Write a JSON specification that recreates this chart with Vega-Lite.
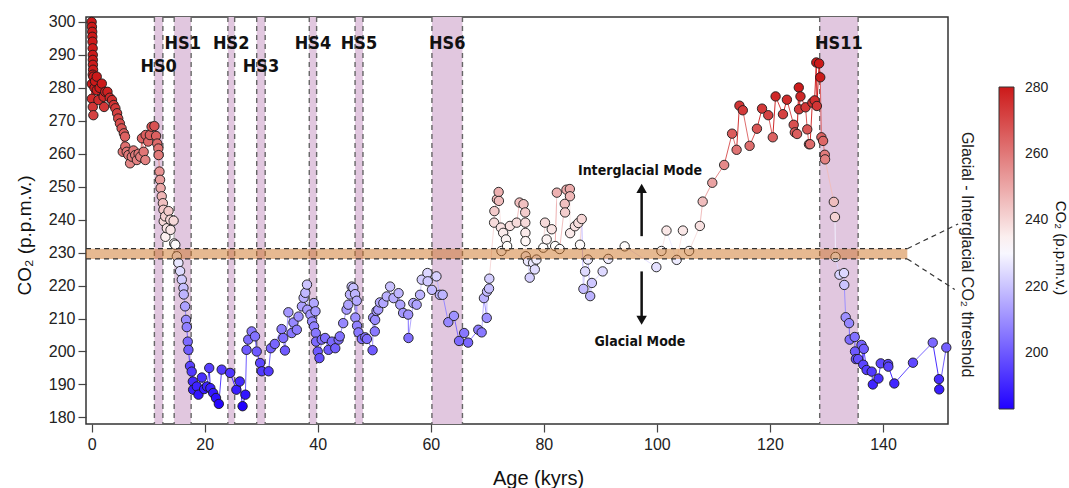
{
  "$schema": "https://vega.github.io/schema/vega-lite/v6.json",
  "width": 862,
  "height": 407,
  "autosize": {"type": "none"},
  "padding": {"left": 86, "top": 17, "right": 121, "bottom": 64},
  "background": "white",
  "config": {
    "font": "Liberation Sans",
    "view": {"stroke": "#333", "strokeWidth": 1.5},
    "axis": {"domain": false, "grid": false, "tickColor": "#444", "tickWidth": 1.2, "labelColor": "#222", "titleColor": "#111", "titleFontWeight": "normal", "labelFont": "Liberation Sans", "titleFont": "Liberation Sans", "labelOverlap": false},
    "axisY": {"tickCount": 13, "labelOverlap": false},
    "legend": {"labelFont": "Liberation Sans", "titleFont": "Liberation Sans"}
  },
  "resolve": {"legend": {"color": "independent"}},
  "datasets": {
    "co2": [
      {"age":0.0,"co2":300},{"age":0.05,"co2":298.5},{"age":0.1,"co2":297},{"age":0.12,"co2":295.5},{"age":0.15,"co2":294},{"age":0.18,"co2":292},{"age":0.2,"co2":290},{"age":0.21,"co2":288.5},{"age":0.22,"co2":287},{"age":0.25,"co2":285.5},{"age":0.2,"co2":284},{"age":0.3,"co2":283.4},{"age":0.03,"co2":281.2},{"age":0.03,"co2":276.7},{"age":0.2,"co2":274.2},{"age":0.3,"co2":271.7},{"age":0.5,"co2":280},{"age":0.6,"co2":282},{"age":0.9,"co2":283.4},{"age":0.9,"co2":279.3},{"age":1.2,"co2":276.3},{"age":1.4,"co2":280},{"age":1.8,"co2":281.3},{"age":2.1,"co2":277.3},{"age":2.2,"co2":274.2},{"age":2.4,"co2":278.8},{"age":2.8,"co2":278.8},{"age":3.2,"co2":277},{"age":3.6,"co2":276.3},{"age":3.9,"co2":274.8},{"age":4.2,"co2":273.8},{"age":4.5,"co2":272.3},{"age":4.7,"co2":270.7},{"age":5.0,"co2":269.2},{"age":5.3,"co2":267.7},{"age":5.5,"co2":260.6},{"age":5.7,"co2":266.2},{"age":5.9,"co2":265.2},{"age":5.95,"co2":262.2},{"age":6.2,"co2":260.6},{"age":6.5,"co2":259.6},{"age":6.8,"co2":257.1},{"age":7.1,"co2":259.1},{"age":7.4,"co2":261},{"age":7.7,"co2":259.6},{"age":8.0,"co2":258.1},{"age":8.3,"co2":260},{"age":8.6,"co2":259.1},{"age":8.9,"co2":264.7},{"age":9.2,"co2":260.6},{"age":9.5,"co2":258.1},{"age":9.55,"co2":265.7},{"age":10.0,"co2":263.7},{"age":10.3,"co2":265.7},{"age":10.6,"co2":268.2},{"age":11.1,"co2":268.4},{"age":11.4,"co2":265.4},{"age":11.6,"co2":263.1},{"age":11.8,"co2":261.6},{"age":11.85,"co2":259.6},{"age":12.0,"co2":254.6},{"age":12.1,"co2":252.1},{"age":12.2,"co2":249.6},{"age":12.4,"co2":247.1},{"age":12.6,"co2":245.0},{"age":12.7,"co2":243.0},{"age":12.75,"co2":239.5},{"age":13.0,"co2":241.0},{"age":13.05,"co2":234.8},{"age":13.3,"co2":237.4},{"age":13.6,"co2":242.6},{"age":13.9,"co2":240.0},{"age":13.95,"co2":236.9},{"age":14.5,"co2":239.7},{"age":14.6,"co2":232.8},
      {"age":14.8,"co2":232.4},{"age":15.07,"co2":228.9},{"age":15.35,"co2":226.9},{"age":15.65,"co2":224.4},{"age":15.95,"co2":221.8},{"age":16.24,"co2":219.3},{"age":16.3,"co2":217.3},{"age":16.53,"co2":213.7},{"age":16.7,"co2":209.6},{"age":16.83,"co2":207.4},{"age":17.0,"co2":203},{"age":17.12,"co2":200.5},{"age":17.4,"co2":195.6},{"age":17.7,"co2":193.9},{"age":17.9,"co2":190.9},{"age":17.95,"co2":188.4},{"age":18.6,"co2":189.4},{"age":18.9,"co2":186.9},{"age":19.5,"co2":192.1},{"age":19.9,"co2":188.6},{"age":20.4,"co2":189.4},{"age":20.8,"co2":195},{"age":21.0,"co2":188.9},{"age":21.5,"co2":187.4},{"age":22.0,"co2":185.9},{"age":22.5,"co2":184.1},{"age":23.0,"co2":194.5},{"age":24.5,"co2":193.5},{"age":25.6,"co2":188.4},{"age":26.2,"co2":190.9},{"age":26.7,"co2":183.4},{"age":27.2,"co2":186.9},{"age":27.4,"co2":200.5},{"age":27.7,"co2":203.6},{"age":28.3,"co2":206.1},{"age":28.9,"co2":204.6},{"age":29.2,"co2":200},{"age":29.8,"co2":196.5},{"age":30.1,"co2":194},{"age":31.3,"co2":194},{"age":31.7,"co2":201},{"age":32.4,"co2":202.3},{"age":33.6,"co2":206.8},{"age":33.9,"co2":204.1},{"age":34.2,"co2":200.3},{"age":34.8,"co2":211.9},{"age":35.4,"co2":205.6},{"age":35.7,"co2":208.8},{"age":36.3,"co2":206.6},{"age":36.6,"co2":210.6},{"age":37.2,"co2":213.7},{"age":37.5,"co2":216.3},{"age":37.8,"co2":217.8},{"age":38.1,"co2":220.3},{"age":38.15,"co2":212.7},{"age":38.7,"co2":211.2},{"age":39.0,"co2":209.1},{"age":39.3,"co2":214.7},{"age":39.35,"co2":207.6},{"age":39.6,"co2":212.2},{"age":39.65,"co2":205.6},{"age":39.7,"co2":203},{"age":40.0,"co2":200},{"age":40.3,"co2":198},{"age":40.7,"co2":203.6},{"age":41.3,"co2":204.1},{"age":41.9,"co2":200.5},{"age":42.5,"co2":203},{"age":43.1,"co2":201},{"age":43.7,"co2":203.6},{"age":43.9,"co2":204.6},{"age":44.5,"co2":208.6},{"age":45.1,"co2":212.7},{"age":45.4,"co2":214.2},{"age":45.7,"co2":217.3},{"age":46.0,"co2":219.7},{"age":46.3,"co2":219.3},{"age":46.6,"co2":217.4},{"age":46.9,"co2":215.4},{"age":46.65,"co2":210.3},{"age":46.95,"co2":207.8},{"age":47.2,"co2":205.8},{"age":47.8,"co2":203.8},{"age":48.4,"co2":204.3},{"age":48.7,"co2":203.8},{"age":49.7,"co2":200.4},{"age":49.8,"co2":210.3},{"age":50.1,"co2":206.1},{"age":50.15,"co2":209.6},{"age":50.4,"co2":212.3},{"age":50.7,"co2":212.7},{"age":51.0,"co2":214.9},{"age":51.6,"co2":214.7},{"age":52.2,"co2":216.7},{"age":52.8,"co2":219.7},{"age":53.4,"co2":216.2},{"age":54.3,"co2":217.7},{"age":54.6,"co2":214.2},{"age":55.1,"co2":211.7},{"age":56.0,"co2":211.2},{"age":56.05,"co2":204.1},{"age":56.9,"co2":214.7},{"age":57.5,"co2":214.2},{"age":58.1,"co2":217.2},{"age":58.4,"co2":221.8},{"age":59.4,"co2":223.8},{"age":59.45,"co2":221.3},{"age":60.2,"co2":218.7},{"age":61.0,"co2":222.8},{"age":61.6,"co2":217.2},{"age":62.1,"co2":217.2},{"age":63.1,"co2":208.9},{"age":64.1,"co2":210.8},{"age":65.0,"co2":203.2},{"age":65.9,"co2":205.6},{"age":66.6,"co2":202.7},{"age":68.4,"co2":206.6},{"age":69.0,"co2":205.8},{"age":69.4,"co2":216.2},{"age":69.9,"co2":210.2},{"age":69.95,"co2":218.2},{"age":70.3,"co2":219.1},{"age":70.35,"co2":222.1},{"age":71.2,"co2":239.1},{"age":71.25,"co2":242.6},{"age":71.7,"co2":246.2},{"age":72.0,"co2":248.4},{"age":72.05,"co2":245.7},{"age":72.4,"co2":237.6},{"age":72.5,"co2":230.5},{"age":72.8,"co2":236.0},{"age":73.3,"co2":234.0},{"age":73.5,"co2":232.0},{"age":74.0,"co2":238.1},{"age":75.2,"co2":239.1},{"age":75.7,"co2":245.2},{"age":76.4,"co2":244.7},{"age":76.7,"co2":242.2},{"age":76.72,"co2":239.1},{"age":76.74,"co2":236.0},{"age":76.76,"co2":233.5},{"age":76.8,"co2":228.9},{"age":77.2,"co2":227.4},{"age":77.5,"co2":222.4},{"age":78.1,"co2":226.9},{"age":78.4,"co2":224.9},{"age":78.7,"co2":227.9},{"age":79.9,"co2":231.5},{"age":80.2,"co2":239.1},{"age":80.5,"co2":234.0},{"age":81.4,"co2":237.1},{"age":82.0,"co2":232.0},{"age":82.3,"co2":248.2},{"age":82.8,"co2":231.1},{"age":83.7,"co2":244.8},{"age":83.75,"co2":242.2},{"age":84.0,"co2":249.1},{"age":84.6,"co2":249.3},{"age":84.62,"co2":247.1},{"age":84.65,"co2":235.9},{"age":85.5,"co2":238.0},{"age":86.1,"co2":239.0},{"age":86.4,"co2":232.4},{"age":86.7,"co2":240.2},{"age":87.0,"co2":219.0},{"age":87.3,"co2":224.3},{"age":87.8,"co2":227.9},{"age":88.2,"co2":216.8},{"age":88.5,"co2":220.8},{"age":90.4,"co2":224.3},{"age":91.4,"co2":228.1},{"age":94.3,"co2":231.9},{"age":99.9,"co2":225.6},{"age":100.8,"co2":230.5},{"age":101.7,"co2":236.7},{"age":103.5,"co2":227.8},{"age":104.6,"co2":236.7},{"age":105.7,"co2":230.5},{"age":107.6,"co2":238.1},{"age":108.1,"co2":245.5},{"age":109.8,"co2":251.2},{"age":111.9,"co2":256.6},{"age":113.3,"co2":266.1},{"age":114.1,"co2":261.2},{"age":114.6,"co2":274.6},{"age":115.2,"co2":273.2},{"age":116.4,"co2":262.4},{"age":117.7,"co2":267.6},{"age":118.6,"co2":273.7},{"age":119.7,"co2":271.7},{"age":120.5,"co2":265.0},{"age":121.0,"co2":277.4},{"age":122.3,"co2":272.0},{"age":123.0,"co2":276.4},{"age":124.2,"co2":268.8},{"age":124.4,"co2":266.5},{"age":124.8,"co2":266.0},{"age":125.1,"co2":280.1},{"age":125.15,"co2":273.5},{"age":125.4,"co2":277.4},{"age":126.3,"co2":274.1},{"age":126.6,"co2":267.4},{"age":126.9,"co2":262.9},{"age":127.1,"co2":262.9},{"age":127.5,"co2":275.5},{"age":127.9,"co2":276.2},{"age":128.2,"co2":287.7},{"age":128.3,"co2":274.5},{"age":128.7,"co2":287.4},{"age":128.9,"co2":283.2},{"age":129.1,"co2":265.0},{"age":129.4,"co2":263.9},{"age":129.7,"co2":259.7},{"age":129.75,"co2":258.3},{"age":131.3,"co2":245.4},{"age":131.5,"co2":240.8},{"age":131.6,"co2":228.7},{"age":132.3,"co2":223.3},{"age":133.1,"co2":223.8},{"age":133.15,"co2":220.2},{"age":133.4,"co2":210.4},{"age":134.0,"co2":208.6},{"age":134.1,"co2":203.6},{"age":135.0,"co2":204.4},{"age":135.05,"co2":200.0},{"age":135.2,"co2":197.7},{"age":135.6,"co2":197.7},{"age":136.2,"co2":202.0},{"age":136.5,"co2":196},{"age":136.6,"co2":200.8},{"age":137.1,"co2":194.4},{"age":138.0,"co2":193.9},{"age":138.2,"co2":190.0},{"age":139.2,"co2":191.8},{"age":139.6,"co2":196.4},{"age":140.9,"co2":196.2},{"age":140.95,"co2":195.4},{"age":142.0,"co2":190.3},{"age":145.3,"co2":196.6},{"age":148.8,"co2":202.7},{"age":149.9,"co2":191.6},{"age":149.95,"co2":188.5},{"age":151.2,"co2":201.2}
    ],
    "hs": [
      {"name":"HS0","start":11.1,"end":12.6,"mid":11.85,"ly":286.3},
      {"name":"HS1","start":14.6,"end":17.6,"mid":16.1,"ly":293.3},
      {"name":"HS2","start":24.1,"end":25.3,"mid":24.7,"ly":293.3},
      {"name":"HS3","start":29.2,"end":30.7,"mid":29.95,"ly":286.3},
      {"name":"HS4","start":38.5,"end":39.8,"mid":39.15,"ly":293.3},
      {"name":"HS5","start":46.6,"end":48.0,"mid":47.3,"ly":293.3},
      {"name":"HS6","start":60.2,"end":65.6,"mid":62.9,"ly":293.3},
      {"name":"HS11","start":128.8,"end":135.6,"mid":132.2,"ly":293.3}
    ],
    "band": [{"x1":-1,"x2":144.3,"lo":228.1,"hi":231.2}],
    "callout": [
      {"xa":144.3,"ya":231.2,"xb":153.3,"yb":238.7},
      {"xa":144.3,"ya":228.1,"xb":152.7,"yb":218.8}
    ],
    "modes": [
      {"t":"Interglacial Mode","x":97.0,"y":254.9},
      {"t":"Glacial Mode","x":97.0,"y":203.0}
    ],
    "arrows": [
      {"x":97.3,"y":235.0,"y2":248.5,"hy":249.5,"shape":"triangle-up"},
      {"x":97.3,"y":224.3,"y2":210.5,"hy":209.5,"shape":"triangle-down"}
    ],
    "thr": [{"t":"Glacial - Interglacial CO₂ threshold","x":154.8,"y":229.4}]
  },
  "layer": [
    {
      "data": {"name": "hs"},
      "mark": {"type": "rect", "fill": "#e1c7df"},
      "encoding": {
        "x": {"field": "start", "type": "quantitative", "scale": {"domain": [-1, 151.5], "nice": false, "zero": false},
          "axis": {"values": [0,20,40,60,80,100,120,140], "tickSize": 8, "labelFontSize": 16, "labelPadding": 4, "title": "Age (kyrs)", "titleFontSize": 20, "titleX": 452, "titleY": 54, "titleAlign": "center", "titleBaseline": "middle"}},
        "x2": {"field": "end"}
      }
    },
    {
      "data": {"name": "hs"},
      "mark": {"type": "rule", "stroke": "#666", "strokeDash": [5, 4], "strokeWidth": 1.4},
      "encoding": {"x": {"field": "start", "type": "quantitative"}}
    },
    {
      "data": {"name": "hs"},
      "mark": {"type": "rule", "stroke": "#666", "strokeDash": [5, 4], "strokeWidth": 1.4},
      "encoding": {"x": {"field": "end", "type": "quantitative"}}
    },
    {
      "data": {"name": "hs"},
      "mark": {"type": "text", "font": "DejaVu Sans Condensed, Roboto Condensed, Open Sans Condensed, Liberation Sans, sans-serif", "fontWeight": "bold", "fontSize": 18, "color": "#111", "baseline": "middle", "align": "center"},
      "encoding": {
        "x": {"field": "mid", "type": "quantitative"},
        "y": {"field": "ly", "type": "quantitative", "scale": {"domain": [178, 301.5], "nice": false, "zero": false},
          "axis": {"values": [180,190,200,210,220,230,240,250,260,270,280,290,300], "tickCount": 13, "labelOverlap": false, "tickSize": 8, "labelFontSize": 16, "labelPadding": 3, "title": "CO₂ (p.p.m.v.)", "titleFontSize": 19, "titleX": -62, "titleY": 218, "titleAlign": "center", "titleBaseline": "middle"}},
        "text": {"field": "name"}
      }
    },
    {
      "data": {"name": "co2"},
      "transform": [
        {"window": [{"op": "lag", "field": "age", "as": "age0"}, {"op": "lag", "field": "co2", "as": "co20"}], "sort": [{"field": "age"}]},
        {"filter": "datum.age0 != null"}
      ],
      "mark": {"type": "rule", "strokeWidth": 1},
      "encoding": {
        "x": {"field": "age", "type": "quantitative"},
        "y": {"field": "co2", "type": "quantitative"},
        "x2": {"field": "age0"},
        "y2": {"field": "co20"},
        "color": {"field": "co2", "type": "quantitative",
          "scale": {"domain": [183, 231.5, 280.3], "range": ["#2000ff", "#ffffff", "#cc1a1a"], "interpolate": "rgb", "clamp": true},
          "legend": null}
      }
    },
    {
      "data": {"name": "co2"},
      "mark": {"type": "circle", "size": 88, "opacity": 1, "stroke": "#1a1a1a", "strokeWidth": 0.9},
      "encoding": {
        "x": {"field": "age", "type": "quantitative"},
        "y": {"field": "co2", "type": "quantitative"},
        "color": {"field": "co2", "type": "quantitative",
          "legend": {"type": "gradient", "orient": "none", "legendX": 913, "legendY": 70, "direction": "vertical", "gradientLength": 322, "gradientThickness": 15, "gradientStrokeColor": "#333", "gradientStrokeWidth": 1, "values": [200,220,240,260,280], "labelFontSize": 14, "labelOffset": 11, "labelColor": "#222", "title": "CO₂ (p.p.m.v.)", "titleOrient": "right", "titleAngle": 90, "titleFontSize": 15, "titleFontWeight": "normal", "titleAnchor": "middle", "titlePadding": 5, "titleColor": "#111"}}
      }
    },
    {
      "data": {"name": "band"},
      "mark": {"type": "rect", "fill": "#cd7323", "opacity": 0.5},
      "encoding": {
        "x": {"field": "x1", "type": "quantitative"},
        "x2": {"field": "x2"},
        "y": {"field": "lo", "type": "quantitative"},
        "y2": {"field": "hi"}
      }
    },
    {
      "data": {"name": "band"},
      "mark": {"type": "rule", "stroke": "#333", "strokeDash": [5, 4], "strokeWidth": 1.2},
      "encoding": {
        "x": {"field": "x1", "type": "quantitative"},
        "x2": {"field": "x2"},
        "y": {"field": "lo", "type": "quantitative"}
      }
    },
    {
      "data": {"name": "band"},
      "mark": {"type": "rule", "stroke": "#333", "strokeDash": [5, 4], "strokeWidth": 1.2},
      "encoding": {
        "x": {"field": "x1", "type": "quantitative"},
        "x2": {"field": "x2"},
        "y": {"field": "hi", "type": "quantitative"}
      }
    },
    {
      "data": {"name": "callout"},
      "mark": {"type": "rule", "stroke": "#333", "strokeDash": [5, 4], "strokeWidth": 1.2},
      "encoding": {
        "x": {"field": "xa", "type": "quantitative"},
        "y": {"field": "ya", "type": "quantitative"},
        "x2": {"field": "xb"},
        "y2": {"field": "yb"}
      }
    },
    {
      "data": {"name": "modes"},
      "mark": {"type": "text", "font": "DejaVu Sans Condensed, Roboto Condensed, Open Sans Condensed, Liberation Sans, sans-serif", "fontWeight": "bold", "fontSize": 14, "color": "#111", "baseline": "middle", "align": "center"},
      "encoding": {
        "x": {"field": "x", "type": "quantitative"},
        "y": {"field": "y", "type": "quantitative"},
        "text": {"field": "t"}
      }
    },
    {
      "data": {"name": "arrows"},
      "mark": {"type": "rule", "stroke": "#111", "strokeWidth": 2.5},
      "encoding": {
        "x": {"field": "x", "type": "quantitative"},
        "y": {"field": "y", "type": "quantitative"},
        "y2": {"field": "y2"}
      }
    },
    {
      "data": {"name": "arrows"},
      "mark": {"type": "point", "filled": true, "color": "#111", "size": 110, "opacity": 1},
      "encoding": {
        "x": {"field": "x", "type": "quantitative"},
        "y": {"field": "hy", "type": "quantitative"},
        "shape": {"field": "shape", "type": "nominal", "scale": null}
      }
    },
    {
      "data": {"name": "thr"},
      "mark": {"type": "text", "angle": 90, "fontSize": 16, "color": "#222", "baseline": "middle", "align": "center"},
      "encoding": {
        "x": {"field": "x", "type": "quantitative"},
        "y": {"field": "y", "type": "quantitative"},
        "text": {"field": "t"}
      }
    }
  ]
}
